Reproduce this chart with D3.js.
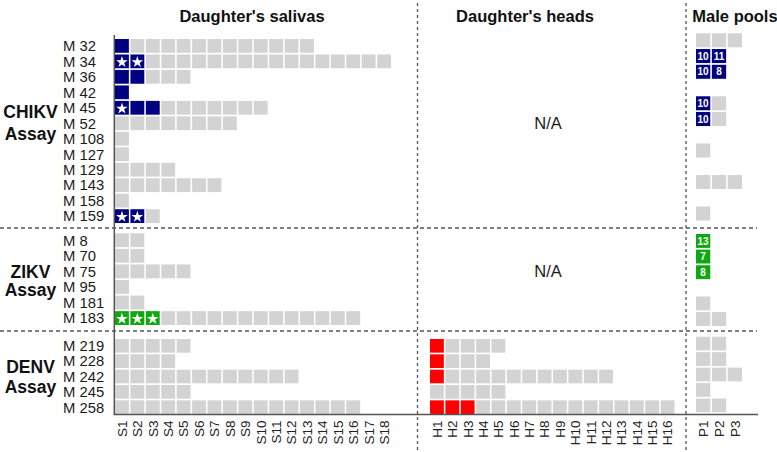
<!DOCTYPE html>
<html>
<head>
  <meta charset="utf-8">
  <style>
    body { margin: 0; background: #fff; }
    text { font-family: Arial, "Liberation Sans", sans-serif; }
  </style>
  <title>Vertical transmission assays</title>
  <script src="https://cdn.jsdelivr.net/npm/d3@7/dist/d3.min.js"></script>
</head>
<body>
<script>
  // Column labels
  const salivaCols = d3.range(1, 19).map(i => "S" + i);
  const headCols = d3.range(1, 17).map(i => "H" + i);
  const poolCols = ["P1", "P2", "P3"];

  // CHIKV assay
  const chikvMales = ["M 32", "M 34", "M 36", "M 42", "M 45", "M 52", "M 108", "M 127", "M 129", "M 143", "M 158", "M 159"];
  const chikvSaliva = [13, 18, 5, 1, 10, 8, 1, 1, 4, 7, 1, 3];      // daughters tested
  const chikvSalivaPos = [1, 2, 2, 1, 3, 0, 0, 0, 0, 0, 0, 2];      // positive daughters
  const chikvSalivaStar = [0, 2, 0, 0, 1, 0, 0, 0, 0, 0, 0, 2];     // starred positives
  const chikvPools = [[0, 0, 0], [10, 11], [10, 8], [], [10, 0], [10, 0], [], [0], [], [0, 0, 0], [], [0]];

  // ZIKV assay
  const zikvMales = ["M 8", "M 70", "M 75", "M 95", "M 181", "M 183"];
  const zikvSaliva = [2, 2, 5, 1, 2, 16];
  const zikvSalivaPos = [0, 0, 0, 0, 0, 3];
  const zikvSalivaStar = [0, 0, 0, 0, 0, 3];
  const zikvPools = [[13], [7], [8], [], [0], [0, 0]];

  // DENV assay
  const denvMales = ["M 219", "M 228", "M 242", "M 245", "M 258"];
  const denvSaliva = [5, 4, 12, 5, 16];
  const denvSalivaPos = [0, 0, 0, 0, 0];
  const denvHeads = [5, 4, 12, 5, 16];
  const denvHeadsPos = [1, 1, 1, 0, 3];
  const denvPools = [[0, 0], [0, 0], [0, 0, 0], [0], [0, 0]];

  const width = 777, height = 452;
  const grey = "#d3d3d3", lineCol = "#555";

  const groups = [
    {name: "CHIKV", color: "#000080", males: chikvMales, saliva: chikvSaliva, salivaPos: chikvSalivaPos,
     stars: chikvSalivaStar, heads: null, pools: chikvPools,
     yr: [39, 223], poolYr: [33.3, 220.5], label1: 118, label2: 139.5},
    {name: "ZIKV", color: "#10a810", males: zikvMales, saliva: zikvSaliva, salivaPos: zikvSalivaPos,
     stars: zikvSalivaStar, heads: null, pools: zikvPools,
     yr: [233.3, 325], poolYr: [234, 326], label1: 277.5, label2: 296},
    {name: "DENV", color: "#ff0000", males: denvMales, saliva: denvSaliva, salivaPos: denvSalivaPos,
     stars: [0, 0, 0, 0, 0], heads: {n: denvHeads, pos: denvHeadsPos}, pools: denvPools,
     yr: [339, 414], poolYr: [336.7, 412.3], label1: 372.5, label2: 393}
  ];

  const svg = d3.select("body").append("svg")
      .attr("width", width)
      .attr("height", height);

  // x scales
  const xS = d3.scaleBand().domain(salivaCols).range([115, 391]).paddingInner(0.1);
  const xH = d3.scaleBand().domain(headCols).range([430, 674.5]).paddingInner(0.1);
  const xP = d3.scaleBand().domain(poolCols).range([696, 742]).paddingInner(0.1);

  const star = d3.symbol().type(d3.symbolStar).size(42);

  function drawRow(g, x, yPos, bh, n, pos, nStar, color) {
    const cells = d3.range(n).map(i => ({col: x.domain()[i], pos: i < pos, star: i < nStar}));
    g.selectAll(null).data(cells).enter().append("rect")
        .attr("x", d => x(d.col))
        .attr("y", yPos)
        .attr("width", x.bandwidth())
        .attr("height", bh)
        .attr("fill", d => d.pos ? color : grey);
    g.selectAll(null).data(cells.filter(d => d.star)).enter().append("path")
        .attr("d", star)
        .attr("transform", d => "translate(" + (x(d.col) + x.bandwidth() / 2) + "," + (yPos + bh / 2 + 0.8) + ")")
        .attr("fill", "#fff");
  }

  groups.forEach(grp => {
    const y = d3.scaleBand().domain(grp.males).range(grp.yr).paddingInner(0.11);
    const yP = d3.scaleBand().domain(grp.males).range(grp.poolYr).paddingInner(0.11);
    const g = svg.append("g").attr("class", "grp-" + grp.name);

    grp.males.forEach((m, i) => {
      drawRow(g, xS, y(m), y.bandwidth(), grp.saliva[i], grp.salivaPos[i], grp.stars[i], grp.color);
      if (grp.heads) {
        drawRow(g, xH, y(m), y.bandwidth(), grp.heads.n[i], grp.heads.pos[i], 0, grp.color);
      }
      // male pools: 0 = negative, number = positive with pool size
      const pc = grp.pools[i].map((v, j) => ({col: poolCols[j], v: v}));
      g.selectAll(null).data(pc).enter().append("rect")
          .attr("x", d => xP(d.col))
          .attr("y", yP(m))
          .attr("width", xP.bandwidth())
          .attr("height", yP.bandwidth())
          .attr("fill", d => d.v > 0 ? grp.color : grey);
      g.selectAll(null).data(pc.filter(d => d.v > 0)).enter().append("text")
          .attr("x", d => xP(d.col) + xP.bandwidth() / 2)
          .attr("y", yP(m) + yP.bandwidth() / 2)
          .attr("dy", "0.36em")
          .attr("text-anchor", "middle")
          .attr("fill", "#fff")
          .style("font-size", "10px")
          .style("font-weight", "bold")
          .text(d => d.v);

      // row label
      g.append("text")
          .attr("x", 63)
          .attr("y", y(m) + y.bandwidth() / 2)
          .attr("dy", "0.36em")
          .attr("fill", "#1a1a1a")
          .style("font-size", "14.8px")
          .text(m);
    });

    // group label
    g.append("text").attr("x", 30.5).attr("y", grp.label1)
        .attr("text-anchor", "middle").style("font-size", "17.5px").style("font-weight", "bold")
        .attr("fill", "#111").text(grp.name);
    g.append("text").attr("x", 30.5).attr("y", grp.label2)
        .attr("text-anchor", "middle").style("font-size", "17.5px").style("font-weight", "bold")
        .attr("fill", "#111").text("Assay");

    if (!grp.heads) {
      svg.append("text")
          .attr("x", 548)
          .attr("y", (grp.yr[0] + grp.yr[1]) / 2 - 8)
          .attr("dy", "0.36em")
          .attr("text-anchor", "middle")
          .attr("fill", "#1a1a1a")
          .style("font-size", "16.5px")
          .text("N/A");
    }
  });

  // separators
  [228, 331].forEach(yy => {
    svg.append("line").attr("x1", 0).attr("x2", 757).attr("y1", yy).attr("y2", yy)
        .attr("stroke", lineCol).attr("stroke-width", 1.3).attr("stroke-dasharray", "4,3");
  });
  [417.5, 686].forEach(xx => {
    svg.append("line").attr("x1", xx).attr("x2", xx).attr("y1", 3).attr("y2", height)
        .attr("stroke", lineCol).attr("stroke-width", 1.3).attr("stroke-dasharray", "3,3");
  });

  // axes lines
  svg.append("line").attr("x1", 114.3).attr("x2", 114.3).attr("y1", 35).attr("y2", 414.5)
      .attr("stroke", lineCol).attr("stroke-width", 1.5);
  svg.append("line").attr("x1", 113.5).attr("x2", 758).attr("y1", 414.5).attr("y2", 414.5)
      .attr("stroke", lineCol).attr("stroke-width", 1.5);

  // bottom tick labels
  [xS, xH, xP].forEach(x => {
    const ax = svg.append("g")
        .attr("transform", "translate(0,414.5)")
        .call(d3.axisBottom(x).tickSize(0).tickPadding(0));
    ax.select(".domain").remove();
    ax.selectAll("text")
        .attr("transform", "rotate(-90)")
        .attr("x", -6)
        .attr("y", 0)
        .attr("dy", "0.36em")
        .attr("text-anchor", "end")
        .attr("fill", "#222")
        .style("font-size", "13.5px")
        .style("font-family", "Arial, 'Liberation Sans', sans-serif");
  });

  // titles
  const titles = [["Daughter's salivas", 252], ["Daughter's heads", 525], ["Male pools", 735]];
  titles.forEach(t => {
    svg.append("text").attr("x", t[1]).attr("y", 22)
        .attr("text-anchor", "middle")
        .style("font-size", "16.5px").style("font-weight", "bold")
        .attr("fill", "#111")
        .text(t[0]);
  });
</script>
</body>
</html>
